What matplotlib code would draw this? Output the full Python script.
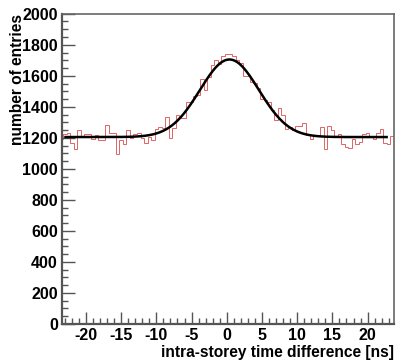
import numpy as np
import matplotlib
matplotlib.use("Agg")
import matplotlib.pyplot as plt
from matplotlib.ticker import MultipleLocator

plt.rcParams['font.family'] = ['Liberation Sans', 'DejaVu Sans']
plt.rcParams['axes.unicode_minus'] = False

# histogram: 0.5 ns bins, first bin edge at -23.75
bin_width = 0.5
first_edge = -23.75
counts = [
    1190, 1226, 1230, 1166, 1129, 1252, 1205, 1226, 1226, 1190,
    1220, 1187, 1187, 1284, 1234, 1234, 1097, 1183, 1162, 1248,
    1196, 1225, 1230, 1200, 1166,
    # -11.0 .. 0.0
    1208, 1187, 1256, 1269, 1262, 1337, 1198, 1262, 1350, 1327,
    1327, 1434, 1434, 1467, 1477, 1579, 1510, 1590, 1671, 1699,
    1677, 1725, 1742,
    # 0.5 .. 12.5
    1742, 1729, 1703, 1682, 1600, 1596, 1557, 1553, 1520, 1449,
    1445, 1434, 1381, 1312, 1391, 1348, 1256, 1269, 1252, 1277,
    1277, 1295, 1219, 1191, 1219,
    # 13.0 .. 23.5
    1219, 1269, 1127, 1277, 1252, 1213, 1226, 1161, 1144, 1133,
    1191, 1161, 1176, 1226, 1234, 1213, 1191, 1230, 1256, 1166,
    1161, 1213,
]

# gaussian + constant fit parameters
fit_const = 1205
fit_amp = 500
fit_mean = 0.38
fit_sigma = 4.19
fit_range = (-22.9, 22.7)

edges = first_edge + bin_width * np.arange(len(counts) + 1)

fig = plt.figure(figsize=(4.03, 3.61), dpi=100)
ax = fig.add_axes([0.1538, 0.1025, 0.8239, 0.8595])

ax.stairs(counts, edges, color='#d94a4a', lw=0.7, alpha=0.85)

xf = np.linspace(fit_range[0], fit_range[1], 400)
yf = fit_const + fit_amp * np.exp(-(xf - fit_mean) ** 2 / (2 * fit_sigma ** 2))
ax.plot(xf, yf, color='black', lw=1.8)

ax.set_xlim(-23.4, 23.75)
ax.set_ylim(0, 2000)

ax.xaxis.set_major_locator(MultipleLocator(5))
ax.xaxis.set_minor_locator(MultipleLocator(1))
ax.yaxis.set_major_locator(MultipleLocator(200))
ax.yaxis.set_minor_locator(MultipleLocator(50))
ax.tick_params(which='both', direction='in', color='#555555', width=1.0,
               top=False, right=False)
ax.tick_params(which='major', length=9, labelsize=11.5, pad=3)
ax.tick_params(which='minor', length=4.5)
for lab in ax.get_xticklabels() + ax.get_yticklabels():
    lab.set_fontweight('bold')

for side in ['left', 'bottom']:
    ax.spines[side].set_color('#555555')
    ax.spines[side].set_linewidth(1.6)
for side in ['top', 'right']:
    ax.spines[side].set_color('#666666')
    ax.spines[side].set_linewidth(1.2)

ax.set_xlabel('intra-storey time difference [ns]', loc='right',
              fontsize=11.2, fontweight='bold', labelpad=1)
fig.text(18 / 403, 1 - 14 / 361, 'number of entries', rotation=90,
         ha='center', va='top', fontsize=11.2, fontweight='bold')

fig.savefig('out.png', dpi=100)
